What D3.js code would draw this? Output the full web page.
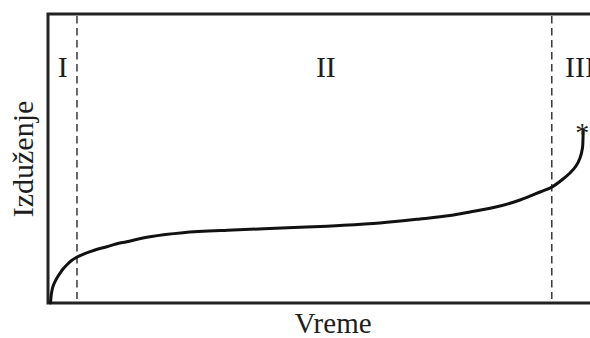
<!DOCTYPE html>
<html>
<head>
<meta charset="utf-8">
<script src="https://cdn.jsdelivr.net/npm/d3@7"></script>
<style>
  html, body { margin: 0; padding: 0; background: #fff; }
  svg { display: block; }
  text { font-family: "Liberation Serif", "Times New Roman", serif; fill: #1e1e1e; }
</style>
</head>
<body>
<svg id="chart" width="590" height="338"></svg>
<script>
// Creep curve: elongation vs. time (relative units 0–100)
const time = [0.46, 0.55, 0.68, 0.91, 1.28, 1.74, 2.19, 2.74, 3.42, 4.20, 5.25, 6.40, 7.68, 9.14,
              10.73, 12.43, 14.39, 18.65, 24.68, 33.82, 46.07, 53.38, 60.69, 68.01, 73.49, 77.15,
              82.63, 86.29, 89.95, 92.14, 94.15, 95.43, 96.53, 97.26, 97.71, 97.81, 97.86];
const elongation = [0, 2.08, 3.91, 5.71, 7.37, 9.00, 10.28, 11.76, 13.15, 14.53, 15.81, 16.85, 17.75, 18.69,
                    19.48, 20.42, 21.21, 22.94, 24.33, 25.26, 26.19, 26.82, 27.68, 29.07, 30.28, 31.49,
                    33.56, 35.64, 38.41, 40.14, 42.91, 44.98, 47.40, 50.17, 53.63, 57.09, 59.86];

// Stage boundaries and stage labels
const stageBounds = [5.3, 92.1];
const stageNames = ["I", "II", "III"];
const stageLabelX = [2.7, 50.8, 94.5];
const stageLabelY = 78.2;

const xTitle = "Vreme";
const yTitle = "Izduženje";
const ruptureMark = "*";

const svg = d3.select("#chart");
const plotLeft = 48, plotRight = 595, plotTop = 14, plotBottom = 303;

const x = d3.scaleLinear().domain([0, 100]).range([plotLeft, plotRight]);
const y = d3.scaleLinear().domain([0, 100]).range([plotBottom, plotTop]);

// dashed stage boundaries
svg.selectAll("line.bound")
  .data(stageBounds)
  .join("line")
  .attr("class", "bound")
  .attr("x1", d => x(d)).attr("x2", d => x(d))
  .attr("y1", y(100) + 2).attr("y2", y(0) - 4)
  .attr("stroke", "#2a2a2a")
  .attr("stroke-width", 1.4)
  .attr("stroke-dasharray", "7.5,4.5");

// frame (open on the right, beyond the view)
svg.append("path")
  .attr("d", `M${x(100) + 10},${y(100)} H${x(0)} V${y(0)} H${x(100) + 10}`)
  .attr("fill", "none")
  .attr("stroke", "#222")
  .attr("stroke-width", 3);

// creep curve
const pts = time.map((t, i) => [t, elongation[i]]);
const line = d3.line()
  .x(d => x(d[0]))
  .y(d => y(d[1]))
  .curve(d3.curveCatmullRom.alpha(0.5));

svg.append("path")
  .datum(pts)
  .attr("d", line)
  .attr("fill", "none")
  .attr("stroke", "#111")
  .attr("stroke-width", 3)
  .attr("stroke-linecap", "round");

// rupture mark at the end of the curve
const last = pts[pts.length - 1];
svg.append("text")
  .attr("x", x(last[0]) - 1)
  .attr("y", y(last[1]) + 12)
  .attr("text-anchor", "middle")
  .attr("font-size", 28)
  .text(ruptureMark);

// stage labels
svg.selectAll("text.stage")
  .data(stageNames)
  .join("text")
  .attr("class", "stage")
  .attr("x", (d, i) => x(stageLabelX[i]))
  .attr("y", y(stageLabelY))
  .attr("text-anchor", (d, i) => i === 2 ? "start" : "middle")
  .attr("font-size", 30)
  .text(d => d);

// axis titles
svg.append("text")
  .attr("x", 333)
  .attr("y", 333)
  .attr("text-anchor", "middle")
  .attr("font-size", 29)
  .text(xTitle);

svg.append("text")
  .attr("transform", "translate(33,159) rotate(-90)")
  .attr("text-anchor", "middle")
  .attr("font-size", 30)
  .text(yTitle);
</script>
</body>
</html>
